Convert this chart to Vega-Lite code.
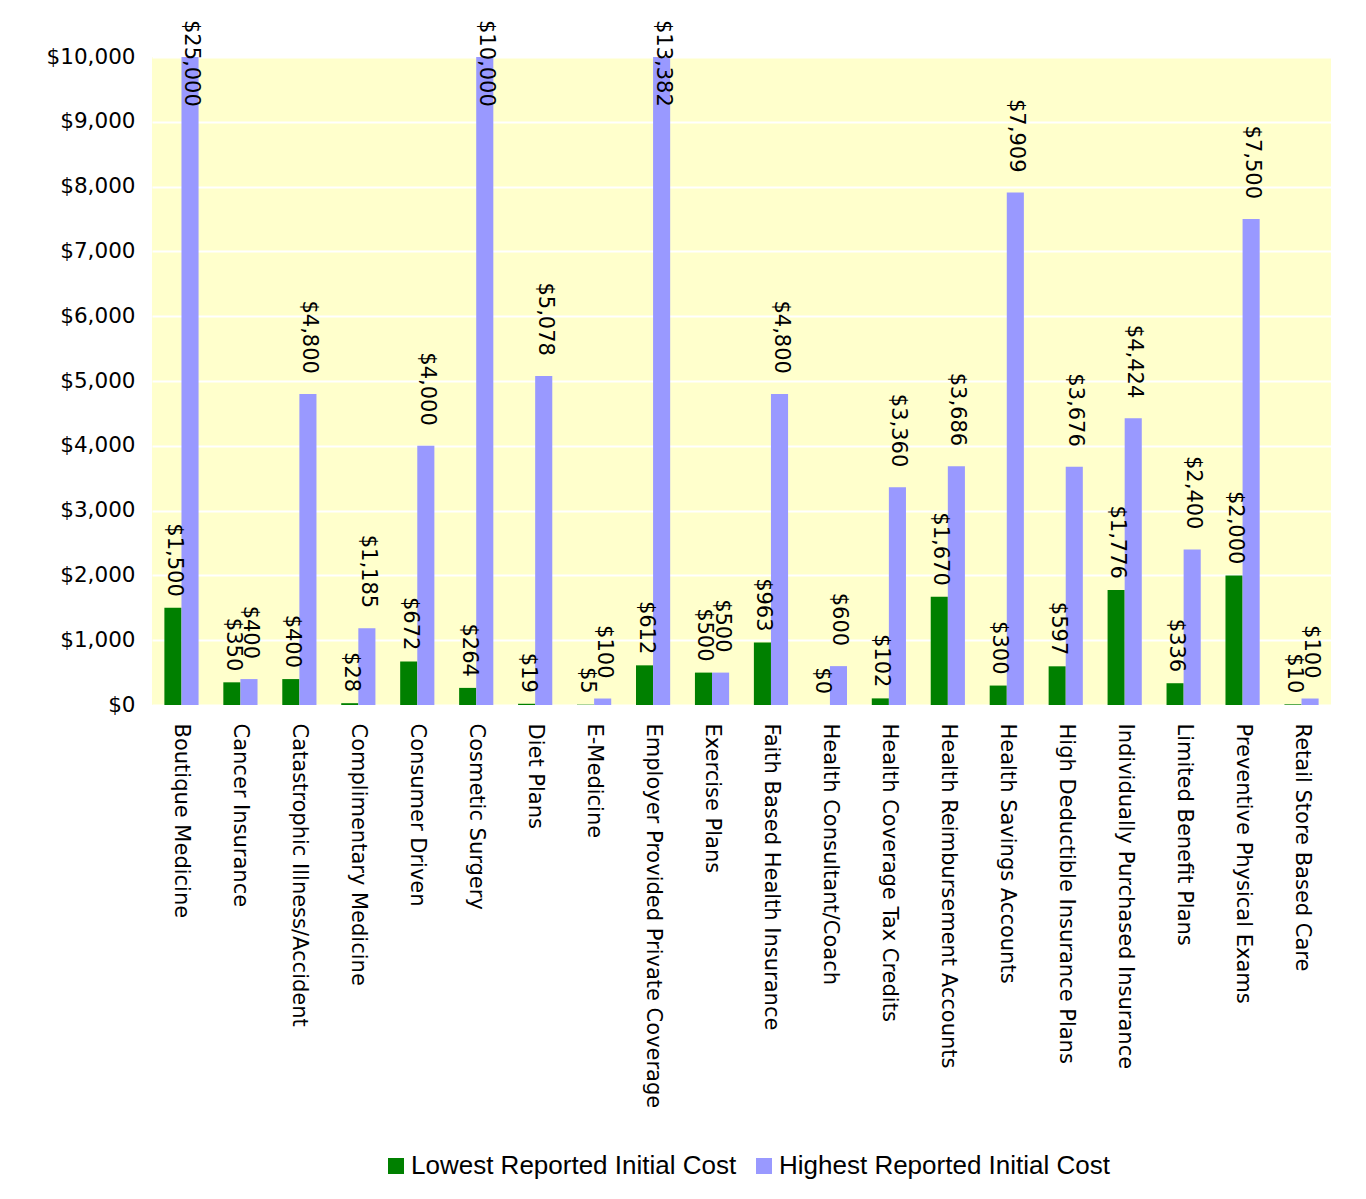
{
  "$schema": "https://vega.github.io/schema/vega-lite/v6.json",
  "autosize": {"type": "none"},
  "width": 1179,
  "height": 648,
  "padding": {"left": 152, "top": 57, "right": 35, "bottom": 494},
  "background": "white",
  "config": {
    "view": {"fill": "#FFFFCC", "stroke": null},
    "font": "DejaVu Sans"
  },
  "data": {
    "values": [
      {"category": "Boutique Medicine", "series": "Lowest Reported Initial Cost", "cost": 1500},
      {"category": "Boutique Medicine", "series": "Highest Reported Initial Cost", "cost": 25000},
      {"category": "Cancer Insurance", "series": "Lowest Reported Initial Cost", "cost": 350},
      {"category": "Cancer Insurance", "series": "Highest Reported Initial Cost", "cost": 400},
      {"category": "Catastrophic Illness/Accident", "series": "Lowest Reported Initial Cost", "cost": 400},
      {"category": "Catastrophic Illness/Accident", "series": "Highest Reported Initial Cost", "cost": 4800},
      {"category": "Complimentary Medicine", "series": "Lowest Reported Initial Cost", "cost": 28},
      {"category": "Complimentary Medicine", "series": "Highest Reported Initial Cost", "cost": 1185},
      {"category": "Consumer Driven", "series": "Lowest Reported Initial Cost", "cost": 672},
      {"category": "Consumer Driven", "series": "Highest Reported Initial Cost", "cost": 4000},
      {"category": "Cosmetic Surgery", "series": "Lowest Reported Initial Cost", "cost": 264},
      {"category": "Cosmetic Surgery", "series": "Highest Reported Initial Cost", "cost": 10000},
      {"category": "Diet Plans", "series": "Lowest Reported Initial Cost", "cost": 19},
      {"category": "Diet Plans", "series": "Highest Reported Initial Cost", "cost": 5078},
      {"category": "E-Medicine", "series": "Lowest Reported Initial Cost", "cost": 5},
      {"category": "E-Medicine", "series": "Highest Reported Initial Cost", "cost": 100},
      {"category": "Employer Provided Private Coverage", "series": "Lowest Reported Initial Cost", "cost": 612},
      {"category": "Employer Provided Private Coverage", "series": "Highest Reported Initial Cost", "cost": 13382},
      {"category": "Exercise Plans", "series": "Lowest Reported Initial Cost", "cost": 500},
      {"category": "Exercise Plans", "series": "Highest Reported Initial Cost", "cost": 500},
      {"category": "Faith Based Health Insurance", "series": "Lowest Reported Initial Cost", "cost": 963},
      {"category": "Faith Based Health Insurance", "series": "Highest Reported Initial Cost", "cost": 4800},
      {"category": "Health Consultant/Coach", "series": "Lowest Reported Initial Cost", "cost": 0},
      {"category": "Health Consultant/Coach", "series": "Highest Reported Initial Cost", "cost": 600},
      {"category": "Health Coverage Tax Credits", "series": "Lowest Reported Initial Cost", "cost": 102},
      {"category": "Health Coverage Tax Credits", "series": "Highest Reported Initial Cost", "cost": 3360},
      {"category": "Health Reimbursement Accounts", "series": "Lowest Reported Initial Cost", "cost": 1670},
      {"category": "Health Reimbursement Accounts", "series": "Highest Reported Initial Cost", "cost": 3686},
      {"category": "Health Savings Accounts", "series": "Lowest Reported Initial Cost", "cost": 300},
      {"category": "Health Savings Accounts", "series": "Highest Reported Initial Cost", "cost": 7909},
      {"category": "High Deductible Insurance Plans", "series": "Lowest Reported Initial Cost", "cost": 597},
      {"category": "High Deductible Insurance Plans", "series": "Highest Reported Initial Cost", "cost": 3676},
      {"category": "Individually Purchased Insurance", "series": "Lowest Reported Initial Cost", "cost": 1776},
      {"category": "Individually Purchased Insurance", "series": "Highest Reported Initial Cost", "cost": 4424},
      {"category": "Limited Benefit Plans", "series": "Lowest Reported Initial Cost", "cost": 336},
      {"category": "Limited Benefit Plans", "series": "Highest Reported Initial Cost", "cost": 2400},
      {"category": "Preventive Physical Exams", "series": "Lowest Reported Initial Cost", "cost": 2000},
      {"category": "Preventive Physical Exams", "series": "Highest Reported Initial Cost", "cost": 7500},
      {"category": "Retail Store Based Care", "series": "Lowest Reported Initial Cost", "cost": 10},
      {"category": "Retail Store Based Care", "series": "Highest Reported Initial Cost", "cost": 100}
    ]
  },
  "encoding": {
    "x": {
      "field": "category",
      "type": "nominal",
      "sort": null,
      "scale": {"paddingInner": 0.42, "paddingOuter": 0.21},
      "axis": {
        "title": null,
        "labelAngle": 90,
        "labelAlign": "left",
        "labelBaseline": "middle",
        "labelFont": "DejaVu Sans",
        "labelFontSize": 21,
        "labelColor": "#000000",
        "labelPadding": 18,
        "labelLimit": 600,
        "ticks": false,
        "tickSize": 0,
        "domain": false,
        "grid": false
      }
    },
    "xOffset": {
      "field": "series",
      "type": "nominal",
      "sort": ["Lowest Reported Initial Cost", "Highest Reported Initial Cost"]
    },
    "y": {
      "field": "cost",
      "type": "quantitative",
      "scale": {"domain": [0, 10000], "clamp": true, "nice": false},
      "axis": {
        "title": null,
        "values": [0, 1000, 2000, 3000, 4000, 5000, 6000, 7000, 8000, 9000, 10000],
        "format": "$,.0f",
        "labelFont": "DejaVu Sans",
        "labelFontSize": 21.5,
        "labelColor": "#000000",
        "labelPadding": 17,
        "ticks": false,
        "tickSize": 0,
        "domain": false,
        "grid": true,
        "gridColor": "#FFFFFF",
        "gridWidth": 2
      }
    }
  },
  "layer": [
    {
      "mark": {"type": "bar"},
      "encoding": {
        "color": {
          "field": "series",
          "type": "nominal",
          "scale": {
            "domain": ["Lowest Reported Initial Cost", "Highest Reported Initial Cost"],
            "range": ["#008000", "#9999FF"]
          },
          "legend": {
            "title": null,
            "orient": "none",
            "legendX": 231,
            "legendY": 1096,
            "direction": "horizontal",
            "symbolType": "square",
            "symbolSize": 256,
            "symbolStrokeWidth": 0,
            "labelFont": "Liberation Sans",
            "labelFontSize": 26,
            "labelColor": "#000000",
            "labelOffset": 2,
            "columnPadding": 14,
            "labelLimit": 500,
            "padding": 0
          }
        }
      }
    },
    {
      "transform": [{"filter": "datum.cost < 10000 && datum.series == 'Lowest Reported Initial Cost'"}],
      "mark": {
        "type": "text",
        "angle": 90,
        "align": "right",
        "baseline": "middle",
        "dx": -11,
        "dy": -1,
        "font": "DejaVu Sans",
        "fontSize": 21,
        "color": "#000000"
      },
      "encoding": {
        "text": {"field": "cost", "type": "quantitative", "format": "$,.0f"}
      }
    },
    {
      "transform": [{"filter": "datum.cost < 10000 && datum.series == 'Highest Reported Initial Cost'"}],
      "mark": {
        "type": "text",
        "angle": 90,
        "align": "right",
        "baseline": "middle",
        "dx": -20,
        "dy": -1,
        "font": "DejaVu Sans",
        "fontSize": 21,
        "color": "#000000"
      },
      "encoding": {
        "text": {"field": "cost", "type": "quantitative", "format": "$,.0f"}
      }
    },
    {
      "transform": [{"filter": "datum.cost >= 10000"}],
      "mark": {
        "type": "text",
        "angle": 90,
        "align": "left",
        "baseline": "middle",
        "dx": -37,
        "dy": -1,
        "font": "DejaVu Sans",
        "fontSize": 21,
        "color": "#000000"
      },
      "encoding": {
        "text": {"field": "cost", "type": "quantitative", "format": "$,.0f"}
      }
    }
  ]
}
